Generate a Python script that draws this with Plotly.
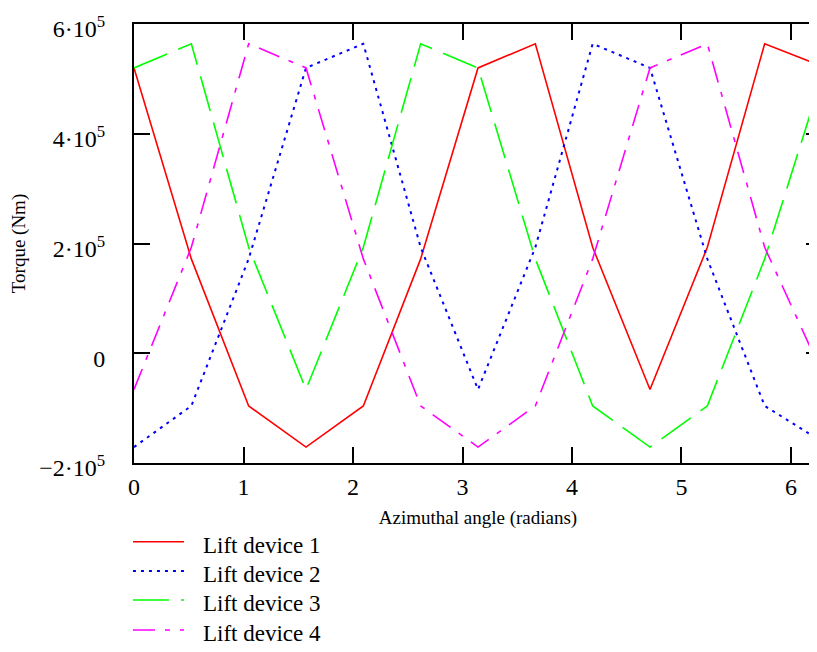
import plotly.graph_objects as go

# Azimuthal angle samples (radians), every pi/6
angle = [0.0, 0.5236, 1.0472, 1.5708, 2.0944, 2.6180, 3.1416,
         3.6652, 4.1888, 4.7124, 5.2360, 5.7596, 6.2832]

# Torque (Nm)
lift1 = [520000, 172000, -96000, -171000, -96000, 172000, 520000,
         564000, 193000, -66000, 193000, 564000, 523000]
lift2 = [-171000, -96000, 172000, 520000, 564000, 193000, -66000,
         193000, 564000, 520000, 172000, -96000, -161000]
lift3 = [520000, 564000, 193000, -66000, 193000, 564000, 520000,
         172000, -96000, -171000, -96000, 172000, 504000]
lift4 = [-66000, 193000, 564000, 520000, 172000, -96000, -171000,
         -96000, 172000, 520000, 564000, 193000, -36000]

names = ["Lift device 1", "Lift device 2", "Lift device 3", "Lift device 4"]
colors = ["#ff0000", "#0000ff", "#00ff00", "#ff00ff"]
dashes = ["solid", "3px,5px", "36px,12px", "22px,10px,5px,10px"]
widths = [1.6, 2.0, 1.6, 1.6]

x_ticks = [0, 1, 2, 3, 4, 5, 6]
x_range = [0, 6.2832]
y_ticks = [-200000, 0, 200000, 400000, 600000]
y_ticktext = ["\u22122\u00b710<sup>5</sup>", "0", "2\u00b710<sup>5</sup>",
              "4\u00b710<sup>5</sup>", "6\u00b710<sup>5</sup>"]
y_range = [-200000, 600000]

FONT = "Liberation Serif"

fig = go.Figure()
for ys, nm, c, d, w in zip([lift1, lift2, lift3, lift4], names, colors, dashes, widths):
    fig.add_trace(go.Scatter(x=angle, y=ys, mode="lines", name=nm,
                             line=dict(color=c, dash=d, width=w)))

# legend drawn below the plot (paper coordinates)
leg_line_x = [-0.0015, 0.0727]
leg_text_x = 0.0975
leg_rows = [-0.1793, -0.2460, -0.3121, -0.3804]
for nm, c, d, w, ry in zip(names, colors, dashes, widths, leg_rows):
    fig.add_shape(type="line", xref="paper", yref="paper",
                  x0=leg_line_x[0], x1=leg_line_x[1], y0=ry, y1=ry,
                  line=dict(color=c, dash=d, width=w))
    fig.add_annotation(xref="paper", yref="paper", x=leg_text_x, y=ry - 0.008,
                       text=nm, showarrow=False, xanchor="left", yanchor="middle",
                       font=dict(size=23, family=FONT, color="black"))

fig.update_layout(
    width=817, height=652,
    margin=dict(l=126, r=3, t=16, b=197, pad=0, autoexpand=False),
    paper_bgcolor="white", plot_bgcolor="white",
    font=dict(family=FONT, color="black", size=22),
    showlegend=False,
    xaxis=dict(range=x_range, tickvals=x_ticks, ticks="inside", ticklen=16,
               tickwidth=2, tickcolor="black", showline=True, linecolor="black",
               linewidth=2, mirror="ticks", showgrid=False, zeroline=False,
               tickfont=dict(size=24, family=FONT), ticklabelstandoff=1,
               title=dict(text="Azimuthal angle (radians)",
                          font=dict(size=19, family=FONT), standoff=12),
               automargin=False),
    yaxis=dict(range=y_range, tickvals=y_ticks, ticktext=y_ticktext,
               ticks="inside", ticklen=16, tickwidth=2, tickcolor="black",
               showline=True, linecolor="black", linewidth=2, mirror="ticks",
               showgrid=False, zeroline=False, tickfont=dict(size=24, family=FONT),
               ticklabelstandoff=22, ticklabelshift=5,
               title=dict(text="Torque (Nm)", font=dict(size=19, family=FONT),
                          standoff=9),
               automargin=False),
)

fig.write_html("out.html")
